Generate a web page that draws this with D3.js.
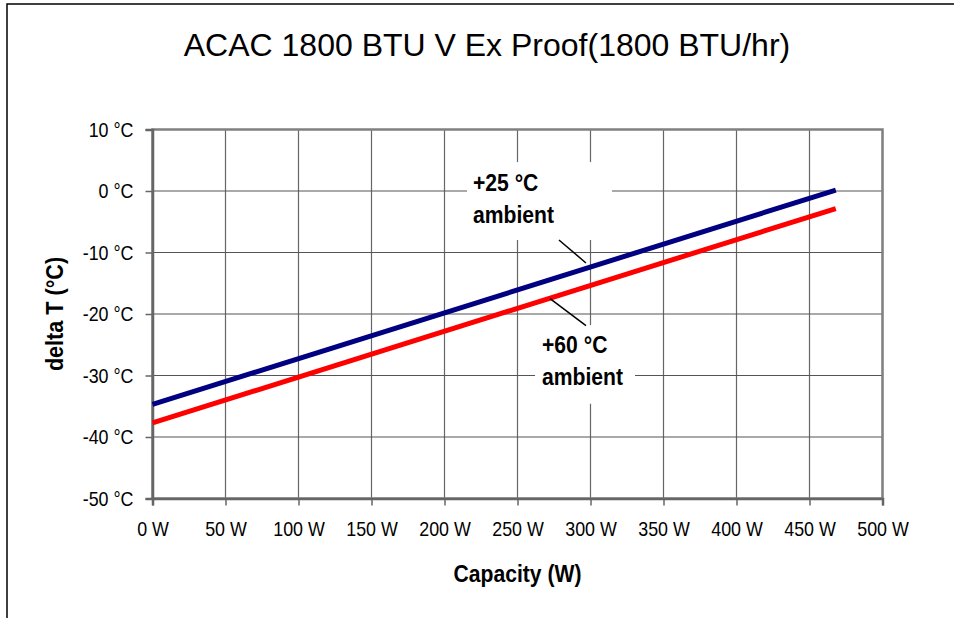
<!DOCTYPE html>
<html>
<head>
<meta charset="utf-8">
<script src="https://cdn.jsdelivr.net/npm/d3@7"></script>
<style>
  body { margin: 0; background: #fff; }
  svg text { font-family: "Liberation Sans", Arial, sans-serif; }
</style>
</head>
<body>
<svg id="chart" width="954" height="618"></svg>
<script>
// data
const capacityW = [0, 468];
const ambient25 = [-34.7, 0.15];
const ambient60 = [-37.7, -2.85];
const xTicks = [0, 50, 100, 150, 200, 250, 300, 350, 400, 450, 500];
const yTicks = [10, 0, -10, -20, -30, -40, -50];
const titleText = "ACAC 1800 BTU V Ex Proof(1800 BTU/hr)";

const svg = d3.select("#chart");
const plot = { left: 152.5, right: 882.5, top: 129.5, bottom: 498.5 };

const x = d3.scaleLinear().domain([0, 500]).range([plot.left, plot.right]);
const y = d3.scaleLinear().domain([-50, 10]).range([plot.bottom, plot.top]);

// the original uses a condensed face; squeeze the glyphs horizontally
function narrow(sel, k) {
  sel.each(function () {
    const len = this.getComputedTextLength();
    this.setAttribute("textLength", len * k);
    this.setAttribute("lengthAdjust", "spacingAndGlyphs");
  });
}

// outer chart frame (cut off by the page on right/bottom)
svg.append("rect")
  .attr("x", 7).attr("y", 4)
  .attr("width", 1000).attr("height", 1000)
  .attr("fill", "none")
  .attr("stroke", "#000")
  .attr("stroke-width", 1.5);

svg.append("text")
  .attr("x", 487).attr("y", 56)
  .attr("text-anchor", "middle")
  .attr("font-size", "32px")
  .attr("fill", "#000")
  .text(titleText);

// grid
svg.append("g")
  .selectAll("line")
  .data(xTicks)
  .join("line")
  .attr("x1", d => x(d)).attr("x2", d => x(d))
  .attr("y1", plot.top).attr("y2", plot.bottom)
  .attr("stroke", "#666")
  .attr("stroke-width", 1.2);

svg.append("g")
  .selectAll("line")
  .data(yTicks)
  .join("line")
  .attr("x1", plot.left).attr("x2", plot.right)
  .attr("y1", d => y(d)).attr("y2", d => y(d))
  .attr("stroke", "#555")
  .attr("stroke-width", 1.2);

// plot frame
svg.append("rect")
  .attr("x", plot.left).attr("y", plot.top)
  .attr("width", plot.right - plot.left)
  .attr("height", plot.bottom - plot.top)
  .attr("fill", "none")
  .attr("stroke", "#808080")
  .attr("stroke-width", 2.5);

// axes
const xAxis = svg.append("g")
  .attr("transform", `translate(0,${plot.bottom})`)
  .call(d3.axisBottom(x).tickValues(xTicks).tickFormat(d => d + " W").tickSize(7).tickPadding(16));
const yAxis = svg.append("g")
  .attr("transform", `translate(${plot.left},0)`)
  .call(d3.axisLeft(y).tickValues(yTicks).tickFormat(d => d + " °C").tickSize(7).tickPadding(12));

[xAxis, yAxis].forEach(ax => {
  ax.select(".domain").attr("stroke", "#666").attr("stroke-width", 2.5);
  ax.selectAll(".tick line").attr("stroke", "#666").attr("stroke-width", 1.5);
  ax.selectAll(".tick text")
    .attr("font-family", null)
    .attr("font-size", "21px")
    .attr("fill", "#000")
    .call(narrow, 0.85);
});

// annotation backgrounds (they hide the grid behind the labels)
const boxes = [
  { w0: 215.4, w1: 314.7, v0: 4.7, v1: -7.96 },
  { w0: 262, w1: 330.5, v0: -21.8, v1: -34.6 }
];
svg.append("g")
  .selectAll("rect")
  .data(boxes)
  .join("rect")
  .attr("x", d => x(d.w0))
  .attr("y", d => y(d.v0))
  .attr("width", d => x(d.w1) - x(d.w0))
  .attr("height", d => y(d.v1) - y(d.v0))
  .attr("fill", "#fff");

// series lines
const line = d3.line()
  .x((d, i) => x(capacityW[i]))
  .y(d => y(d));

svg.append("path")
  .attr("d", line(ambient25))
  .attr("fill", "none")
  .attr("stroke", "#000080")
  .attr("stroke-width", 5);

svg.append("path")
  .attr("d", line(ambient60))
  .attr("fill", "none")
  .attr("stroke", "#ff0000")
  .attr("stroke-width", 5);

// labels with leader lines
const labels = [
  { w: 219.5, lines: [{ v: 0, t: "+25 °C" }, { v: -5.2, t: "ambient" }], lead: [[278.4, -7.96], [296.9, -11.7]] },
  { w: 266.8, lines: [{ v: -26.3, t: "+60 °C" }, { v: -31.6, t: "ambient" }], lead: [[272.3, -17.5], [296.9, -21.9]] }
];
labels.forEach(lb => {
  lb.lines.forEach(l => {
    svg.append("text")
      .attr("x", x(lb.w)).attr("y", y(l.v))
      .attr("font-size", "24px")
      .attr("font-weight", "bold")
      .attr("fill", "#000")
      .text(l.t)
      .call(narrow, 0.88);
  });
  svg.append("line")
    .attr("x1", x(lb.lead[0][0])).attr("y1", y(lb.lead[0][1]))
    .attr("x2", x(lb.lead[1][0])).attr("y2", y(lb.lead[1][1]))
    .attr("stroke", "#000")
    .attr("stroke-width", 1.5);
});

// axis titles
svg.append("text")
  .attr("x", (plot.left + plot.right) / 2).attr("y", 582)
  .attr("text-anchor", "middle")
  .attr("font-size", "24px")
  .attr("font-weight", "bold")
  .text("Capacity (W)")
  .call(narrow, 0.88);

svg.append("text")
  .attr("transform", `translate(63,${(plot.top + plot.bottom) / 2}) rotate(-90)`)
  .attr("text-anchor", "middle")
  .attr("font-size", "24px")
  .attr("font-weight", "bold")
  .text("delta T (°C)")
  .call(narrow, 0.9);
</script>
</body>
</html>
